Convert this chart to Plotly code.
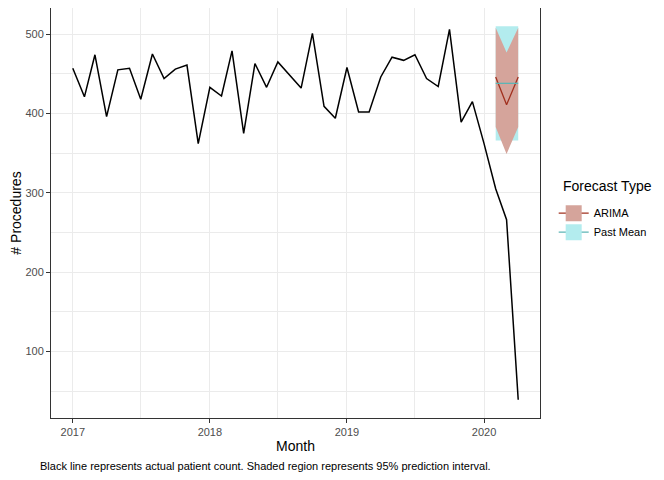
import plotly.graph_objects as go

# ---- data ----
months = [f"{y}-{m:02d}-01" for y in range(2017, 2021) for m in range(1, 13)][:40]
actual = [457, 421, 474, 396, 455, 457, 418, 475, 444, 456, 461, 362,
          433, 422, 479, 375, 463, 433, 465, 448, 432, 501, 409, 394,
          458, 402, 402, 446, 471, 467, 474, 444, 434, 506, 389, 415,
          362, 305, 266, 39]

fc_months = ["2020-02-01", "2020-03-01", "2020-04-01"]
arima_mean = [446, 411, 446]
arima_lo = [383, 349, 383]
arima_hi = [508, 477, 508]
mean_mean = [438, 438, 438]
mean_lo = [366, 366, 366]
mean_hi = [510, 510, 510]

series_names = ["ARIMA", "Past Mean"]

FONT = "Liberation Sans, Arial, sans-serif"
RED_FILL = "#D5A49B"
CYAN_FILL = "#B3ECEE"
RED_LINE = "#A1301E"
CYAN_LINE = "#5DB5B5"

fig = go.Figure()

# Past Mean band
fig.add_trace(go.Scatter(x=fc_months, y=mean_lo, mode="lines", line=dict(width=0),
                         showlegend=False, hoverinfo="skip"))
fig.add_trace(go.Scatter(x=fc_months, y=mean_hi, mode="lines", line=dict(width=0),
                         fill="tonexty", fillcolor=CYAN_FILL, showlegend=False))
# ARIMA band
fig.add_trace(go.Scatter(x=fc_months, y=arima_lo, mode="lines", line=dict(width=0),
                         showlegend=False, hoverinfo="skip"))
fig.add_trace(go.Scatter(x=fc_months, y=arima_hi, mode="lines", line=dict(width=0),
                         fill="tonexty", fillcolor=RED_FILL, showlegend=False))
# forecast lines
fig.add_trace(go.Scatter(x=fc_months, y=arima_mean, mode="lines",
                         line=dict(color=RED_LINE, width=1.3), showlegend=False))
fig.add_trace(go.Scatter(x=fc_months, y=mean_mean, mode="lines",
                         line=dict(color=CYAN_LINE, width=1.3), showlegend=False))
# actual
fig.add_trace(go.Scatter(x=months, y=actual, mode="lines",
                         line=dict(color="black", width=1.5), showlegend=False))

# legend keys (fill box + line), like ggplot's combined key
for name, fc, lc in zip(series_names, [RED_FILL, CYAN_FILL], [RED_LINE, CYAN_LINE]):
    fig.add_trace(go.Scatter(x=[None], y=[None], mode="lines+markers", name=name,
                             legendgroup=name,
                             marker=dict(symbol="square", size=16, color=fc, line=dict(width=0)),
                             line=dict(color=lc, width=1.3)))

# page body has an 8px margin: compensate so the figure fills the 664x480 window
fig.update_layout(
    width=656, height=472,
    margin=dict(l=43, r=124, t=0, b=62),
    paper_bgcolor="white", plot_bgcolor="white",
    font=dict(family=FONT, size=11, color="#4D4D4D"),
    legend=dict(
        x=1.028, y=0.535, xanchor="left", yanchor="top",
        font=dict(size=11, color="black"),
        traceorder="normal", itemwidth=30, tracegroupgap=10,
    ),
    annotations=[
        dict(text="Black line represents actual patient count. Shaded region represents 95% prediction interval.",
             xref="paper", yref="paper", x=-0.026, y=-0.117, xanchor="left", yanchor="middle",
             showarrow=False, font=dict(size=11, color="black", family=FONT)),
        dict(text="Forecast Type", xref="paper", yref="paper", x=1.043, y=0.566,
             xanchor="left", yanchor="middle", showarrow=False,
             font=dict(size=14, color="black", family=FONT)),
    ],
)
fig.update_xaxes(
    range=["2016-11-04", "2020-05-29"],
    tickvals=["2017-01-01", "2018-01-01", "2019-01-01", "2020-01-01"],
    ticktext=["2017", "2018", "2019", "2020"],
    showgrid=True, gridcolor="#EBEBEB", gridwidth=1.1,
    minor=dict(tickvals=["2017-07-01", "2018-07-01", "2019-07-01"], showgrid=True,
               gridcolor="#EBEBEB", gridwidth=0.55, ticks=""),
    showline=True, mirror=True, linecolor="#333333", linewidth=1,
    ticks="outside", ticklen=4, tickcolor="#333333", tickwidth=1,
    zeroline=False,
    title=dict(text="Month", font=dict(size=14, color="black"), standoff=3),
)
fig.update_yaxes(
    range=[16, 533],
    tickvals=[100, 200, 300, 400, 500],
    showgrid=True, gridcolor="#EBEBEB", gridwidth=1.1,
    minor=dict(tickvals=[50, 150, 250, 350, 450], showgrid=True,
               gridcolor="#EBEBEB", gridwidth=0.55, ticks=""),
    showline=True, mirror=True, linecolor="#333333", linewidth=1,
    ticks="outside", ticklen=4, tickcolor="#333333", tickwidth=1,
    zeroline=False,
    title=dict(text="# Procedures", font=dict(size=14, color="black"), standoff=4),
)

fig.write_html("out.html")
